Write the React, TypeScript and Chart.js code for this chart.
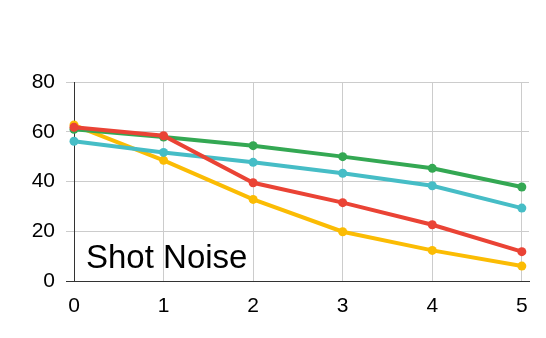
import React, { useEffect, useRef } from "react";
import { Chart, registerables } from "chart.js";

Chart.register(...registerables);

const xValues = [0, 1, 2, 3, 4, 5];
const redSeries = [61.8, 58.4, 39.5, 31.5, 22.6, 11.8];
const greenSeries = [61.0, 57.9, 54.4, 50.0, 45.3, 37.8];
const cyanSeries = [56.2, 51.7, 47.7, 43.3, 38.3, 29.3];
const yellowSeries = [62.7, 48.5, 32.8, 19.8, 12.3, 6.0];
const annotationText = "Shot Noise";

const FONT = "'Liberation Sans', Arial, sans-serif";

const toPoints = (vals: number[]) => xValues.map((x, i) => ({ x, y: vals[i] }));

export default function App() {
  const ref = useRef<HTMLCanvasElement | null>(null);
  useEffect(() => {
    document.body.style.margin = "0";
    const textPlugin = {
      id: "shotNoise",
      afterDatasetsDraw(chart: any) {
        const ctx = chart.ctx;
        const xs = chart.scales.x;
        const ys = chart.scales.y;
        ctx.save();
        ctx.font = `33px ${FONT}`;
        ctx.fillStyle = "#000";
        ctx.textBaseline = "alphabetic";
        ctx.textAlign = "left";
        ctx.fillText(annotationText, xs.getPixelForValue(0) + 12, ys.getPixelForValue(5.2));
        ctx.restore();
      },
    };
    const ds = (label: string, vals: number[], color: string) => ({
      label,
      data: toPoints(vals),
      borderColor: color,
      backgroundColor: color,
      borderWidth: 4,
      pointRadius: 4.5,
      pointHoverRadius: 4.5,
      pointBorderWidth: 0,
      tension: 0,
      clip: false,
    });
    const chart = new Chart(ref.current!, {
      type: "line",
      data: {
        datasets: [
          ds("red", redSeries, "#EA4335"),
          ds("green", greenSeries, "#34A853"),
          ds("cyan", cyanSeries, "#46BDC6"),
          ds("yellow", yellowSeries, "#FBBC04"),
        ],
      },
      options: {
        animation: false,
        responsive: false,
        maintainAspectRatio: false,
        layout: { padding: { top: 82, right: 17, left: 0, bottom: 0 } },
        plugins: { legend: { display: false }, tooltip: { enabled: false } },
        scales: {
          x: {
            type: "linear",
            min: 0,
            max: 5.08,
            afterFit: (s: any) => {
              s.height = 57;
            },
            ticks: {
              stepSize: 1,
              includeBounds: false,
              font: { family: FONT, size: 21 },
              color: "#000",
              padding: 13,
            },
            grid: { color: "#cccccc", lineWidth: 1, drawTicks: false, tickLength: 0 },
            border: { color: "#333333", width: 1 },
          },
          y: {
            type: "linear",
            min: 0,
            max: 80,
            afterFit: (s: any) => {
              s.width = 74;
            },
            ticks: {
              stepSize: 20,
              font: { family: FONT, size: 21 },
              color: "#000",
              padding: 11,
            },
            grid: {
              color: "#cccccc",
              lineWidth: 1,
              tickLength: 8,
              tickColor: (c: any) => (c.tick && c.tick.value === 0 ? "#333333" : "#cccccc"),
            },
            border: { color: "#333333", width: 1 },
          },
        },
      },
      plugins: [textPlugin],
    } as any);
    return () => chart.destroy();
  }, []);
  return <canvas ref={ref} width={546} height={338} style={{ display: "block" }} />;
}
